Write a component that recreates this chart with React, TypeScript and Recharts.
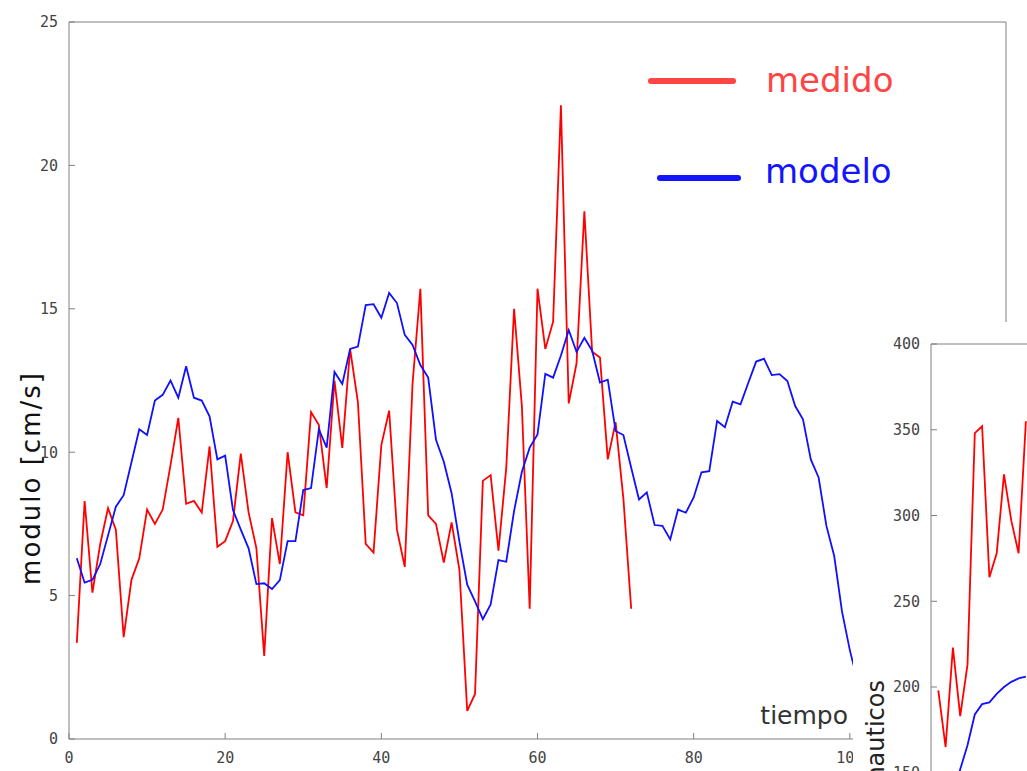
import React from 'react';
import { LineChart, Line, XAxis, YAxis } from 'recharts';

// main panel: modulo vs tiempo
const medido = [
  3.35, 8.3, 5.1, 6.8, 8.05, 7.3, 3.55, 5.55, 6.3, 8.0, 7.5, 8.0, 9.55, 11.2, 8.2, 8.3, 7.9, 10.2, 6.7, 6.9,
  7.6, 9.95, 7.9, 6.65, 2.9, 7.7, 6.1, 10.0, 7.9, 7.8, 11.4, 10.95, 8.75, 12.5, 10.15, 13.6, 11.75, 6.8, 6.5, 10.25,
  11.45, 7.3, 6.0, 12.4, 15.7, 7.8, 7.5, 6.15, 7.55, 5.9, 0.98, 1.57, 9.0, 9.2, 6.57, 9.46, 15.0, 11.6, 4.54, 15.7,
  13.6, 14.55, 22.1, 11.7, 13.1, 18.4, 13.5, 13.3, 9.75, 11.05, 8.38, 4.54,
];
const modelo = [
  6.3, 5.45, 5.55, 6.1, 7.1, 8.1, 8.5, 9.65, 10.8, 10.6, 11.8, 12.0, 12.5, 11.9, 13.0, 11.9, 11.8, 11.25, 9.75, 9.88,
  7.98, 7.3, 6.65, 5.4, 5.43, 5.23, 5.54, 6.9, 6.9, 8.68, 8.75, 10.8, 10.16, 12.8, 12.38, 13.6, 13.68, 15.13, 15.16, 14.69,
  15.55, 15.2, 14.09, 13.74, 13.04, 12.6, 10.43, 9.67, 8.57, 6.88, 5.38, 4.8, 4.18, 4.69, 6.24, 6.18, 7.95, 9.32, 10.16, 10.62,
  12.73, 12.6, 13.37, 14.26, 13.5, 13.99, 13.54, 12.43, 12.53, 10.74, 10.6, 9.46, 8.35, 8.6, 7.46, 7.43, 6.96, 8.0, 7.89, 8.42,
  9.3, 9.34, 11.09, 10.87, 11.76, 11.67, 12.42, 13.16, 13.26, 12.69, 12.72, 12.48, 11.61, 11.15, 9.75, 9.12, 7.43, 6.38, 4.44, 3.1,
  2.0,
];
const xTicks = [0, 20, 40, 60, 80, 100, 120];
const yTicks = [0, 5, 10, 15, 20, 25];

// inset panel: direccion (grados nauticos)
const dirMedido = [198, 165, 223, 183, 213, 348, 352, 264, 278, 324, 297, 278, 355];
const dirModelo = [110, 122, 136, 152, 166, 184, 190, 191, 196, 200, 203, 205, 206];
const insetYTicks = [0, 50, 100, 150, 200, 250, 300, 350, 400];

const mainData = modelo.map((v, i) => ({ t: i + 1, medido: medido[i], modelo: v }));
const insetData = dirMedido.map((v, i) => ({ t: i + 1, medido: v, modelo: dirModelo[i] }));

const AXIS = '#808080';
const tickStyle = { fill: '#444', fontSize: 15, fontFamily: 'DejaVu Sans Mono' };
const RED = '#ff0000';
const BLUE = '#1010ff';

export default function App() {
  return (
    <div style={{ position: 'absolute', left: 0, top: 0, width: 1027, height: 771, overflow: 'hidden', background: '#fff' }}>
      <div style={{ position: 'absolute', left: 8, top: 8 }}>
        <LineChart width={1011} height={763} data={mainData} margin={{ top: 13, right: 12, bottom: 8, left: 11 }}>
          <XAxis
            dataKey="t"
            type="number"
            domain={[0, 120]}
            ticks={xTicks}
            height={24}
            tickSize={-6}
            tickMargin={19}
            stroke={AXIS}
            tick={tickStyle}
          />
          <XAxis
            xAxisId="top"
            orientation="top"
            dataKey="t"
            type="number"
            domain={[0, 120]}
            ticks={xTicks}
            height={1}
            tickSize={-6}
            stroke={AXIS}
            tick={false}
          />
          <YAxis
            type="number"
            domain={[0, 25]}
            ticks={yTicks}
            width={50}
            tickSize={-6}
            tickMargin={17}
            stroke={AXIS}
            tick={tickStyle}
          />
          <YAxis
            yAxisId="r"
            orientation="right"
            type="number"
            domain={[0, 25]}
            ticks={yTicks}
            width={1}
            tickSize={-6}
            stroke={AXIS}
            tick={false}
          />
          <Line type="linear" dataKey="medido" stroke={RED} strokeWidth={1.8} dot={false} isAnimationActive={false} />
          <Line type="linear" dataKey="modelo" stroke={BLUE} strokeWidth={1.8} dot={false} isAnimationActive={false} />
        </LineChart>
      </div>

      {/* inset chart, overlapping bottom right */}
      <div style={{ position: 'absolute', left: 853, top: 322, width: 300, height: 760, background: '#fff' }}>
        <LineChart width={300} height={760} data={insetData} margin={{ top: 21, right: 3, bottom: 52, left: 28 }}>
          <XAxis
            orientation="top"
            dataKey="t"
            type="number"
            domain={[0, 30]}
            ticks={[0]}
            height={1}
            tickSize={-6}
            stroke={AXIS}
            tick={false}
          />
          <YAxis
            type="number"
            domain={[0, 400]}
            ticks={insetYTicks}
            width={50}
            tickSize={-6}
            tickMargin={17}
            stroke={AXIS}
            tick={tickStyle}
          />
          <Line type="linear" dataKey="medido" stroke={RED} strokeWidth={1.8} dot={false} isAnimationActive={false} />
          <Line type="linear" dataKey="modelo" stroke={BLUE} strokeWidth={1.8} dot={false} isAnimationActive={false} />
        </LineChart>
      </div>

      <svg
        width={1027}
        height={771}
        style={{ position: 'absolute', left: 0, top: 0, pointerEvents: 'none', fontFamily: 'DejaVu Sans' }}
      >
        <text x={31} y={478} transform="rotate(-90 31 478)" textAnchor="middle" dominantBaseline="central" fontSize={26} letterSpacing={2} fill="#111">
          modulo [cm/s]
        </text>
        <text x={848} y={724} textAnchor="end" fontSize={25} fill="#333">
          tiempo
        </text>
        <line x1={651} y1={81} x2={733} y2={81} stroke="#ff4444" strokeWidth={6} strokeLinecap="round" />
        <text x={766} y={92} fontSize={34} fill="#ff4444">medido</text>
        <line x1={660} y1={178} x2={738} y2={178} stroke="#1414ff" strokeWidth={6} strokeLinecap="round" />
        <text x={765} y={183} fontSize={34} fill="#1414ff">modelo</text>
        <text x={876} y={680} transform="rotate(-90 876 680)" textAnchor="end" dominantBaseline="central" fontSize={24} fill="#222">
          grados nauticos
        </text>
      </svg>
    </div>
  );
}
